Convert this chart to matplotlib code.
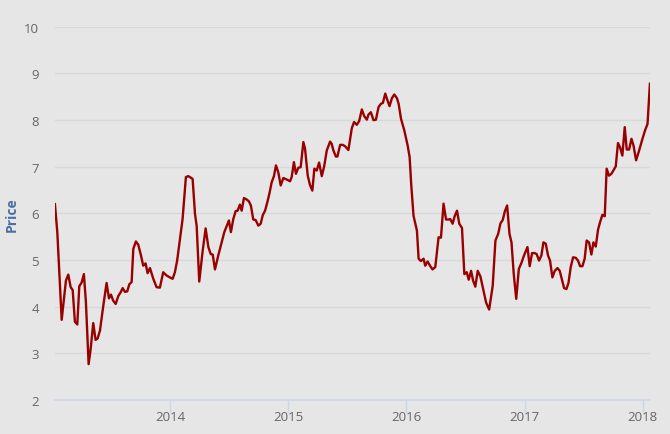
import matplotlib
matplotlib.use("Agg")
import matplotlib.pyplot as plt

# decimal year, price
years = [
    2013.027, 2013.047, 2013.084, 2013.120, 2013.140, 2013.160, 2013.177, 2013.196,
    2013.216, 2013.233, 2013.253, 2013.272, 2013.289, 2013.312, 2013.329, 2013.351,
    2013.371, 2013.388, 2013.408, 2013.436, 2013.464, 2013.484, 2013.501, 2013.520,
    2013.541, 2013.563, 2013.583, 2013.600, 2013.619, 2013.639, 2013.656, 2013.676,
    2013.690, 2013.712, 2013.732, 2013.755, 2013.774, 2013.794, 2013.811, 2013.831,
    2013.859, 2013.887, 2013.915, 2013.943, 2013.972, 2014.006, 2014.023, 2014.042,
    2014.061, 2014.085, 2014.107, 2014.135, 2014.155, 2014.175, 2014.192, 2014.212,
    2014.226, 2014.248, 2014.277, 2014.302, 2014.325, 2014.345, 2014.362, 2014.381,
    2014.409, 2014.438, 2014.460, 2014.485, 2014.499, 2014.516, 2014.536, 2014.556,
    2014.573, 2014.592, 2014.607, 2014.626, 2014.649, 2014.668, 2014.685, 2014.705,
    2014.725, 2014.748, 2014.768, 2014.785, 2014.805, 2014.824, 2014.841, 2014.861,
    2014.880, 2014.897, 2014.917, 2014.937, 2014.960, 2014.994, 2015.016, 2015.030,
    2015.049, 2015.066, 2015.086, 2015.106, 2015.129, 2015.143, 2015.166, 2015.185,
    2015.205, 2015.222, 2015.242, 2015.262, 2015.285, 2015.305, 2015.327, 2015.355,
    2015.369, 2015.383, 2015.404, 2015.417, 2015.440, 2015.463, 2015.482, 2015.510,
    2015.539, 2015.558, 2015.581, 2015.601, 2015.624, 2015.643, 2015.666, 2015.680,
    2015.700, 2015.722, 2015.743, 2015.765, 2015.785, 2015.802, 2015.822, 2015.841,
    2015.858, 2015.878, 2015.898, 2015.921, 2015.935, 2015.955, 2015.983, 2016.011,
    2016.028, 2016.042, 2016.061, 2016.090, 2016.104, 2016.124, 2016.146, 2016.160,
    2016.180, 2016.203, 2016.222, 2016.245, 2016.273, 2016.293, 2016.315, 2016.336,
    2016.358, 2016.372, 2016.392, 2016.409, 2016.429, 2016.448, 2016.471, 2016.491,
    2016.511, 2016.528, 2016.548, 2016.565, 2016.584, 2016.604, 2016.627, 2016.650,
    2016.675, 2016.701, 2016.731, 2016.754, 2016.777, 2016.797, 2016.816, 2016.833,
    2016.853, 2016.873, 2016.890, 2016.909, 2016.930, 2016.952, 2016.974, 2016.996,
    2017.025, 2017.044, 2017.064, 2017.086, 2017.103, 2017.123, 2017.143, 2017.160,
    2017.180, 2017.199, 2017.216, 2017.236, 2017.256, 2017.279, 2017.298, 2017.315,
    2017.335, 2017.355, 2017.372, 2017.391, 2017.411, 2017.433, 2017.453, 2017.470,
    2017.490, 2017.509, 2017.526, 2017.546, 2017.566, 2017.583, 2017.603, 2017.622,
    2017.639, 2017.659, 2017.679, 2017.695, 2017.715, 2017.735, 2017.752, 2017.772,
    2017.791, 2017.808, 2017.828, 2017.848, 2017.865, 2017.885, 2017.905, 2017.922,
    2017.944, 2017.970, 2017.998, 2018.020, 2018.041, 2018.061,
]
prices = [
    6.20, 5.60, 3.72, 4.56, 4.69, 4.42, 4.36, 3.68,
    3.62, 4.44, 4.52, 4.70, 4.10, 2.77, 3.09, 3.65,
    3.29, 3.32, 3.49, 4.02, 4.51, 4.18, 4.26, 4.13,
    4.06, 4.23, 4.31, 4.40, 4.32, 4.33, 4.48, 4.53,
    5.24, 5.40, 5.33, 5.10, 4.88, 4.93, 4.72, 4.83,
    4.60, 4.42, 4.41, 4.74, 4.67, 4.62, 4.60, 4.74,
    4.99, 5.45, 5.88, 6.78, 6.80, 6.77, 6.74, 5.99,
    5.74, 4.54, 5.20, 5.68, 5.28, 5.13, 5.12, 4.80,
    5.10, 5.38, 5.60, 5.76, 5.85, 5.60, 5.88, 6.05,
    6.06, 6.19, 6.06, 6.33, 6.30, 6.26, 6.17, 5.87,
    5.86, 5.74, 5.78, 5.96, 6.06, 6.24, 6.42, 6.67,
    6.80, 7.03, 6.88, 6.60, 6.76, 6.72, 6.69, 6.78,
    7.10, 6.85, 6.98, 6.99, 7.53, 7.39, 6.81, 6.61,
    6.49, 6.96, 6.92, 7.09, 6.80, 7.01, 7.35, 7.54,
    7.49, 7.35, 7.22, 7.22, 7.47, 7.47, 7.44, 7.36,
    7.83, 7.96, 7.90, 7.98, 8.23, 8.09, 8.01, 8.12,
    8.17, 8.00, 8.01, 8.28, 8.35, 8.37, 8.57, 8.42,
    8.30, 8.47, 8.55, 8.47, 8.35, 8.03, 7.78, 7.46,
    7.21, 6.60, 5.95, 5.63, 5.03, 4.98, 5.03, 4.88,
    4.97, 4.87, 4.80, 4.85, 5.49, 5.48, 6.21, 5.87,
    5.87, 5.88, 5.78, 5.94, 6.06, 5.78, 5.69, 4.70,
    4.74, 4.58, 4.77, 4.56, 4.43, 4.77, 4.65, 4.38,
    4.09, 3.94, 4.45, 5.42, 5.56, 5.79, 5.86, 6.04,
    6.17, 5.56, 5.38, 4.70, 4.17, 4.81, 4.94, 5.10,
    5.28, 4.87, 5.15, 5.15, 5.13, 4.99, 5.10, 5.38,
    5.35, 5.10, 4.99, 4.63, 4.77, 4.83, 4.77, 4.60,
    4.40, 4.38, 4.51, 4.85, 5.06, 5.05, 4.99, 4.87,
    4.87, 5.03, 5.42, 5.38, 5.12, 5.38, 5.29, 5.65,
    5.81, 5.97, 5.94, 6.96, 6.81, 6.85, 6.92, 7.01,
    7.51, 7.42, 7.24, 7.85, 7.37, 7.37, 7.60, 7.46,
    7.14, 7.35, 7.60, 7.78, 7.92, 8.78,
]
year_ticks = [2014, 2015, 2016, 2017, 2018]
price_ticks = [2, 3, 4, 5, 6, 7, 8, 9, 10]

BG = "#e6e6e6"
plt.rcParams["font.family"] = ["Open Sans", "DejaVu Sans"]

fig = plt.figure(figsize=(6.7, 4.35), dpi=100, facecolor=BG)
ax = fig.add_axes([0.082, 0.078, 0.888, 0.858], facecolor=BG)

ax.plot(years, prices, color="#990000", lw=1.7, solid_joinstyle="round", zorder=3)

ax.set_xlim(2013.027, 2018.061)
ax.set_ylim(2, 10)
ax.set_xticks(year_ticks)
ax.set_xticklabels([str(y) for y in year_ticks])
ax.set_yticks(price_ticks)

ax.grid(axis="y", color="#d8d8d8", lw=1.0, zorder=1)
for s in ["top", "right", "left"]:
    ax.spines[s].set_visible(False)
ax.spines["bottom"].set_color("#ccd6eb")
ax.spines["bottom"].set_linewidth(1.2)
ax.spines["bottom"].set_zorder(2)

ax.tick_params(axis="x", colors="#ccd6eb", length=9, width=1.0, pad=-1.5,
               labelcolor="#666666", labelsize=9.5)
ax.tick_params(axis="y", length=0, pad=11.5, labelcolor="#666666", labelsize=9.5)

ax.set_ylabel("Price", color="#4a6fa5", fontweight="bold", fontsize=10)
ax.yaxis.set_label_coords(-0.060, 0.5)

fig.savefig("out.png", dpi=100, facecolor=BG)
